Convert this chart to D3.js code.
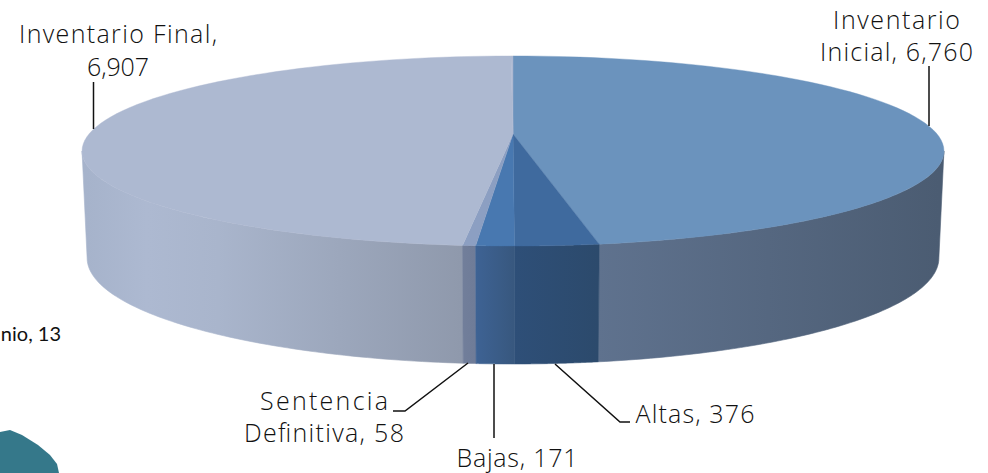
<!DOCTYPE html>
<html><head><meta charset="utf-8">
<style>html,body{margin:0;padding:0;background:#fff}svg{display:block}</style>
<script src="https://cdn.jsdelivr.net/npm/d3@7/dist/d3.min.js"></script>
</head><body><svg id="c" width="988" height="473"></svg>
<script>
const categories = ["Inventario Inicial","Altas","Bajas","Sentencia Definitiva","Inventario Final","Patrimonio"];
const values = [6760,376,171,58,6907,13];
const topColors = ["#6b93bd","#3f6a9e","#4878b0","#8c9fc2","#adb9d1","#adb9d1"];
const wallColorsFrom = ["#5f728e","#2e4f78","#3e6395","#727f9b","#8f99ac","#adb9d1"];
const wallColorsTo = ["#4b5c72","#2c4a6c","#38587f","#6f7c98","#a9b6ce","#adb9d1"];

const svg = d3.select("#c");
const defs = svg.append("defs");
const k = 0.179;
const top_ = {A:424,B:92,y0:134}, bot = {A:419,B:102.6,y0:239}, cx = 513;
function P(t,l){const w=1+k*Math.cos(t);return [cx+l.A*Math.sin(t)/w,l.y0-l.B*Math.cos(t)/w];}
const arcs = d3.pie().sort(null).value(d=>d)(values);
const samples=(a,b)=>d3.range(0,81).map(i=>a+(b-a)*i/80);
const line=d3.line().curve(d3.curveLinear);
const tanA=Math.acos(-k), tanB=2*Math.PI-tanA;

const xr=[[598,939],[513,598],[474,513],[461,474],[87,461],[87,90]];
[0,4,1,3,2].forEach(i=>{
  const a=arcs[i],id="g"+i;
  const g=defs.append("linearGradient").attr("id",id).attr("gradientUnits","userSpaceOnUse")
    .attr("x1",xr[i][0]).attr("x2",xr[i][1]).attr("y1",0).attr("y2",0);
  if(i===4){
    g.append("stop").attr("offset",0).attr("stop-color","#a6b3cb");
    g.append("stop").attr("offset",0.16).attr("stop-color","#adb9d1");
    g.append("stop").attr("offset",0.35).attr("stop-color","#a9b5cc");
    g.append("stop").attr("offset",1).attr("stop-color","#8f99ac");
  } else {
    g.append("stop").attr("offset",0).attr("stop-color",wallColorsFrom[i]);
    g.append("stop").attr("offset",1).attr("stop-color",wallColorsTo[i]);
  }
  const s=Math.max(a.startAngle,tanA), e=Math.min(a.endAngle,tanB);
  const ts=samples(s,e);
  const pts=ts.map(t=>P(t,top_)).concat(ts.slice().reverse().map(t=>P(t,bot)));
  svg.append("path").attr("d",line(pts)+"Z").attr("fill","url(#"+id+")")
    .attr("stroke","url(#"+id+")").attr("stroke-width",0.6);
});
arcs.forEach((a,i)=>{
  const ts=samples(a.startAngle,a.endAngle);
  const pts=[[cx,top_.y0]].concat(ts.map(t=>P(t,top_)));
  svg.append("path").attr("d",line(pts)+"Z").attr("fill",topColors[i])
    .attr("stroke",topColors[i]).attr("stroke-width",0.4);
});

// leader lines
const leaders=[
 [[929,66],[929,126]],
 [[93.5,82],[93.5,129]],
 [[468,363],[405,411],[393,411]],
 [[494,364],[494,438]],
 [[555,364],[620,422],[630,422]]
];
leaders.forEach(l=>svg.append("path").attr("d",line(l)).attr("fill","none").attr("stroke","#111").attr("stroke-width",1.5));

const fmt=d3.format(",");
const labels=[
 {i:0,x:896.5,ys:[29,61],parts:["Inventario","Inicial, "],w:[127,153]},
 {i:4,x:118,ys:[43,76],parts:["Inventario Final,",""],w:[198,62]},
 {i:3,x:324,ys:[410,442],parts:["Sentencia","Definitiva, "],w:[128,160]},
 {i:2,x:517,ys:[467],parts:["Bajas, "],w:[121]},
 {i:1,x:695,ys:[423],parts:["Altas, "],w:[119]}
];
labels.forEach(L=>{
  L.parts.forEach((p,j)=>{
    const last=j===L.parts.length-1;
    svg.append("text").attr("x",L.x).attr("y",L.ys[j]).attr("text-anchor","middle")
      .attr("textLength",L.w[j]).attr("lengthAdjust","spacing")
      .attr("font-family","'Open Sans', Lato, sans-serif").attr("font-size",25).attr("font-weight",300).attr("fill","#111")
      .text(p+(last?fmt(values[L.i]):""));
  });
});
svg.append("text").attr("x",61).attr("y",341).attr("text-anchor","end")
  .attr("font-family","Lato, sans-serif").attr("font-size",20).attr("fill","#111").text("nio, "+values[5]);

// decorative shape at lower left
svg.append("path").attr("d","M0,432 L10,430 L22,435 L38,445 L50,455 L57,464 L59,473 L0,473Z").attr("fill","#35788a");
</script></body></html>
